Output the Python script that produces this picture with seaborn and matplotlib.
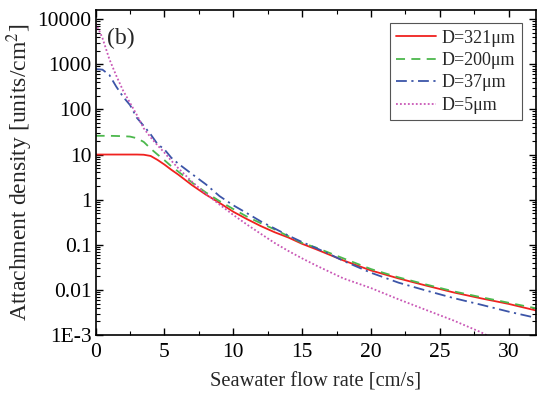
import numpy as np
import pandas as pd
import seaborn as sns
import matplotlib
matplotlib.use("Agg")
import matplotlib.pyplot as plt
from matplotlib.ticker import FixedLocator, FixedFormatter, MultipleLocator, LogLocator, NullFormatter

# ---- data ----
x_321 = [0, 1, 2, 3, 3.5, 4, 4.5, 5, 5.5, 6, 7, 8, 9, 10, 11, 12, 13, 14, 15, 16, 18, 20, 22, 24, 26, 28, 30, 32]
y_321 = [10, 10, 10, 10, 9.9, 9.3, 7.6, 6.0, 4.6, 3.6, 2.1, 1.3, 0.85, 0.54, 0.37, 0.26, 0.19, 0.145, 0.105, 0.08,
         0.045, 0.027, 0.018, 0.0125, 0.0088, 0.0065, 0.0049, 0.0035]

x_200 = [0, 1, 2, 2.5, 3, 3.5, 4, 4.5, 5, 5.5, 6, 7, 8, 9, 10, 11, 12, 13, 14, 15, 16, 18, 20, 22, 24, 26, 28, 30, 32]
y_200 = [26, 26, 25.5, 25, 23, 19, 13.5, 10, 7.5, 5.5, 4.2, 2.4, 1.45, 0.93, 0.62, 0.42, 0.30, 0.22, 0.155, 0.11,
         0.087, 0.05, 0.029, 0.019, 0.0132, 0.0093, 0.0069, 0.0052, 0.0039]

x_37 = [0, 0.5, 1, 1.5, 2, 2.5, 3, 3.5, 4, 4.5, 5, 5.5, 6, 7, 8, 9, 10, 11, 12, 13, 14, 15, 16, 17, 18, 20, 22, 24,
        26, 28, 30, 32]
y_37 = [780, 760, 580, 320, 190, 125, 65, 43, 28, 17, 13, 8.5, 6.3, 3.7, 2.2, 1.2, 0.75, 0.5, 0.33, 0.23, 0.16, 0.115,
        0.085, 0.062, 0.044, 0.024, 0.0145, 0.0097, 0.0066, 0.0047, 0.0033, 0.0024]

x_5 = [0, 0.25, 0.5, 1, 1.5, 2, 2.5, 3, 3.5, 4, 4.5, 5, 5.5, 6, 7, 8, 9, 10, 11, 12, 13, 14, 15, 16, 18, 20, 22, 24,
       26, 28, 29]
y_5 = [8000, 5700, 3800, 1300, 560, 260, 140, 75, 38, 24, 16, 11, 7.3, 5.0, 2.5, 1.35, 0.78, 0.46, 0.28, 0.175, 0.11,
       0.073, 0.05, 0.035, 0.018, 0.011, 0.0062, 0.0036, 0.0021, 0.00115, 0.0008]

labels = ["D=321\u03bcm", "D=200\u03bcm", "D=37\u03bcm", "D=5\u03bcm"]
y_ticks = [1e-3, 1e-2, 1e-1, 1, 10, 100, 1000, 10000]
y_tick_labels = ["1E-3", "0.01", "0.1", "1", "10", "100", "1000", "10000"]
x_ticks = [0, 5, 10, 15, 20, 25, 30]

sns.set_theme(style="ticks")
plt.rcParams['font.family'] = ['Liberation Serif', 'DejaVu Serif']
plt.rcParams['mathtext.fontset'] = 'stix'

fig = plt.figure(figsize=(5.4, 3.97), dpi=100)
ax = fig.add_axes([0.177, 0.156, 0.816, 0.819])

series = [(x_321, y_321, '#f0211f', '-'),
          (x_200, y_200, '#4cb84c', (0, (5, 3.5))),
          (x_37, y_37, '#3c55a8', (0, (6, 2.5, 1.2, 2.5))),
          (x_5, y_5, '#c957b6', (0, (1, 1.2)))]

for (xs, ys, c, ls), lab in zip(series, labels):
    df = pd.DataFrame({"x": xs, "y": ys})
    sns.lineplot(data=df, x="x", y="y", ax=ax, color=c, linestyle=ls, linewidth=1.3, label=lab)

ax.set_yscale('log')
ax.set_xlim(0, 32)
ax.set_ylim(1e-3, 1.6e4)
ax.yaxis.set_major_locator(FixedLocator(y_ticks))
ax.yaxis.set_major_formatter(FixedFormatter(y_tick_labels))
ax.yaxis.set_minor_locator(LogLocator(base=10, subs=np.arange(2, 10), numticks=20))
ax.yaxis.set_minor_formatter(NullFormatter())
ax.xaxis.set_major_locator(FixedLocator(x_ticks))
ax.xaxis.set_minor_locator(MultipleLocator(2.5))

ax.tick_params(which='both', direction='in', top=True, right=True, colors='black', labelsize=15.5)
ax.tick_params(which='major', length=5, width=1.0)
ax.tick_params(axis='x', which='major', pad=6)
ax.tick_params(axis='y', which='major', pad=3)
ax.tick_params(which='minor', length=3, width=0.8)
for s in ax.spines.values():
    s.set_linewidth(1.2)
    s.set_color('black')

ax.set_xlabel("Seawater flow rate [cm/s]", fontsize=14.8, labelpad=7)
ax.set_ylabel("Attachment density [units/cm$^{2}$]", fontsize=17, labelpad=2)
ax.text(0.025, 0.945, "(b)", transform=ax.transAxes, fontsize=17, va='top', ha='left')

leg = ax.legend(loc='upper right', bbox_to_anchor=(0.975, 0.97), fontsize=13, frameon=True, fancybox=False,
                edgecolor='#555555', framealpha=1, handlelength=2.2, handletextpad=0.3, borderpad=0.35,
                labelspacing=0.3, borderaxespad=0.2)
leg.get_frame().set_linewidth(0.8)

fig.savefig("out.png", dpi=100)
